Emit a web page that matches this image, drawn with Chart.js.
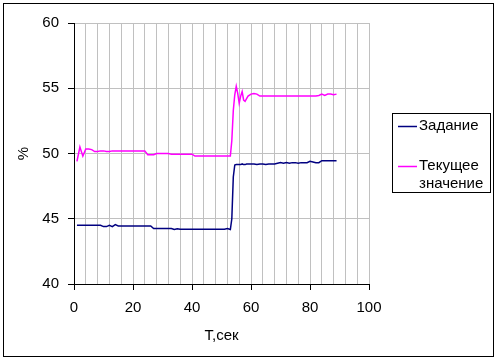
<!DOCTYPE html>
<html>
<head>
<meta charset="utf-8">
<script src="https://cdn.jsdelivr.net/npm/chart.js@4"></script>
<style>
  html, body { margin: 0; padding: 0; background: #fff; }
  #wrap { width: 498px; height: 360px; }
</style>
</head>
<body>
<div id="wrap"><canvas id="chart" width="498" height="360"></canvas></div>
<script>
// time, seconds
var timeSec = [1, 2, 3, 4, 5, 6, 7, 8, 9, 10, 11, 12, 13, 14, 15, 16, 17, 18, 19, 20,
  21, 22, 23, 24, 25, 26, 27, 28, 29, 30, 31, 32, 33, 34, 35, 36, 37, 38, 39, 40,
  41, 42, 43, 44, 45, 46, 47, 48, 49, 50, 51, 52, 53, 53.5, 54, 54.5, 55, 55.5, 56, 56.5,
  57, 57.5, 58, 58.5, 59, 60, 61, 62, 63, 64, 65, 66, 67, 68, 69, 70,
  71, 72, 73, 74, 75, 76, 77, 78, 79, 80, 81, 82, 83, 84, 85, 86, 87, 88, 89];

// setpoint, %
var setpoint = [44.5, 44.5, 44.5, 44.5, 44.5, 44.5, 44.5, 44.5, 44.5, 44.4, 44.4, 44.5, 44.4, 44.55, 44.45, 44.45, 44.45, 44.45, 44.45, 44.45,
  44.45, 44.45, 44.45, 44.45, 44.45, 44.45, 44.25, 44.25, 44.25, 44.25, 44.25, 44.25, 44.25, 44.17, 44.24, 44.2, 44.2, 44.2, 44.2, 44.2,
  44.2, 44.2, 44.2, 44.2, 44.2, 44.2, 44.2, 44.2, 44.2, 44.2, 44.2, 44.25, 44.17, 45.0, 48.2, 49.12, 49.15, 49.15, 49.15, 49.15,
  49.2, 49.15, 49.15, 49.2, 49.2, 49.2, 49.2, 49.15, 49.2, 49.2, 49.15, 49.2, 49.2, 49.2, 49.25, 49.3,
  49.25, 49.3, 49.25, 49.3, 49.3, 49.25, 49.3, 49.3, 49.3, 49.4, 49.35, 49.3, 49.3, 49.45, 49.45, 49.45, 49.45, 49.45, 49.45];

// current value, %
var current = [49.4, 50.5, 49.8, 50.35, 50.35, 50.3, 50.15, 50.15, 50.2, 50.2, 50.15, 50.15, 50.2, 50.2, 50.2, 50.2, 50.2, 50.2, 50.2, 50.2,
  50.2, 50.2, 50.2, 50.2, 49.9, 49.9, 49.9, 50.0, 50.0, 50.0, 50.0, 50.0, 49.95, 49.95, 49.95, 49.95, 49.95, 49.95, 49.95, 49.95,
  49.8, 49.8, 49.8, 49.8, 49.8, 49.8, 49.8, 49.8, 49.8, 49.8, 49.8, 49.8, 49.8, 51.0, 53.3, 54.5, 55.15, 54.6, 53.85, 54.4,
  54.75, 54.1, 54.0, 54.2, 54.4, 54.55, 54.6, 54.55, 54.4, 54.4, 54.4, 54.4, 54.4, 54.4, 54.4, 54.4,
  54.4, 54.4, 54.4, 54.4, 54.4, 54.4, 54.4, 54.4, 54.4, 54.4, 54.4, 54.4, 54.45, 54.55, 54.45, 54.55, 54.55, 54.5, 54.55];

var seriesNames = ['Задание', 'Текущее значение'];
var seriesColors = ['#000080', '#ff00ff'];
var xTicks = [0, 20, 40, 60, 80, 100];
var yTicks = [40, 45, 50, 55, 60];

var FONT = "'Liberation Sans', Arial, sans-serif";

function points(ys) {
  return timeSec.map(function (t, i) { return { x: t, y: ys[i] }; });
}

// frame round the whole chart + legend box drawn like excel does it
var excelFrame = {
  id: 'excelFrame',
  afterDraw: function (chart) {
    var c = chart.ctx;
    c.save();
    c.strokeStyle = '#000';
    c.lineWidth = 1;
    c.strokeRect(3.5, 3.5, 490, 353);

    c.strokeRect(392.5, 113.5, 98, 79);
    c.font = '15px ' + FONT;
    c.textBaseline = 'middle';
    c.textAlign = 'left';
    var rows = [126, 166];
    chart.data.datasets.forEach(function (ds, i) {
      var y = rows[i];
      c.strokeStyle = ds.borderColor;
      c.lineWidth = 1.5;
      c.beginPath();
      c.moveTo(398, y + 0.5);
      c.lineTo(417, y + 0.5);
      c.stroke();
      c.fillStyle = '#000';
      ds.label.split(' ').forEach(function (word, j) {
        c.fillText(word, 419, y + j * 18);
      });
    });
    c.restore();
  }
};

var ctx = document.getElementById('chart').getContext('2d');
var myChart = new Chart(ctx, {
  type: 'scatter',
  data: {
    datasets: [{
      label: seriesNames[0],
      data: points(setpoint),
      borderColor: seriesColors[0],
      backgroundColor: seriesColors[0],
      showLine: true,
      borderWidth: 1.5,
      pointRadius: 0,
      tension: 0
    }, {
      label: seriesNames[1],
      data: points(current),
      borderColor: seriesColors[1],
      backgroundColor: seriesColors[1],
      showLine: true,
      borderWidth: 1.5,
      pointRadius: 0,
      tension: 0
    }]
  },
  options: {
    responsive: false,
    animation: false,
    devicePixelRatio: 1,
    layout: { padding: { top: 23, right: 129, left: 0, bottom: 0 } },
    plugins: {
      legend: { display: false },
      tooltip: { enabled: false }
    },
    scales: {
      x: {
        type: 'linear',
        min: 0,
        max: 100,
        afterFit: function (s) { s.height = 76; },
        ticks: {
          stepSize: 4,
          autoSkip: false,
          maxRotation: 0,
          padding: 9,
          color: '#000',
          font: { family: FONT, size: 15 },
          callback: function (v) { return xTicks.indexOf(v) >= 0 ? String(v) : ''; }
        },
        grid: {
          color: '#c0c0c0',
          lineWidth: 1,
          tickLength: 6,
          tickColor: function (c) {
            return c.tick && xTicks.indexOf(c.tick.value) >= 0 ? '#000' : 'rgba(0,0,0,0)';
          }
        },
        border: { color: '#000', width: 1 },
        title: {
          display: true,
          text: 'Т,сек',
          color: '#000',
          font: { family: FONT, size: 15 },
          padding: { top: 4, bottom: 15 }
        }
      },
      y: {
        min: 40,
        max: 60,
        afterFit: function (s) { s.width = 74; },
        afterBuildTicks: function (s) { s.ticks = yTicks.map(function (v) { return { value: v }; }); },
        ticks: {
          padding: 9,
          color: '#000',
          font: { family: FONT, size: 15 }
        },
        grid: {
          color: '#c0c0c0',
          lineWidth: 1,
          tickLength: 6,
          tickColor: '#000'
        },
        border: { color: '#000', width: 1 },
        title: {
          display: true,
          text: '%',
          color: '#000',
          font: { family: FONT, size: 15 },
          padding: { top: 15, bottom: 4 }
        }
      }
    }
  },
  plugins: [excelFrame]
});
</script>
</body>
</html>
